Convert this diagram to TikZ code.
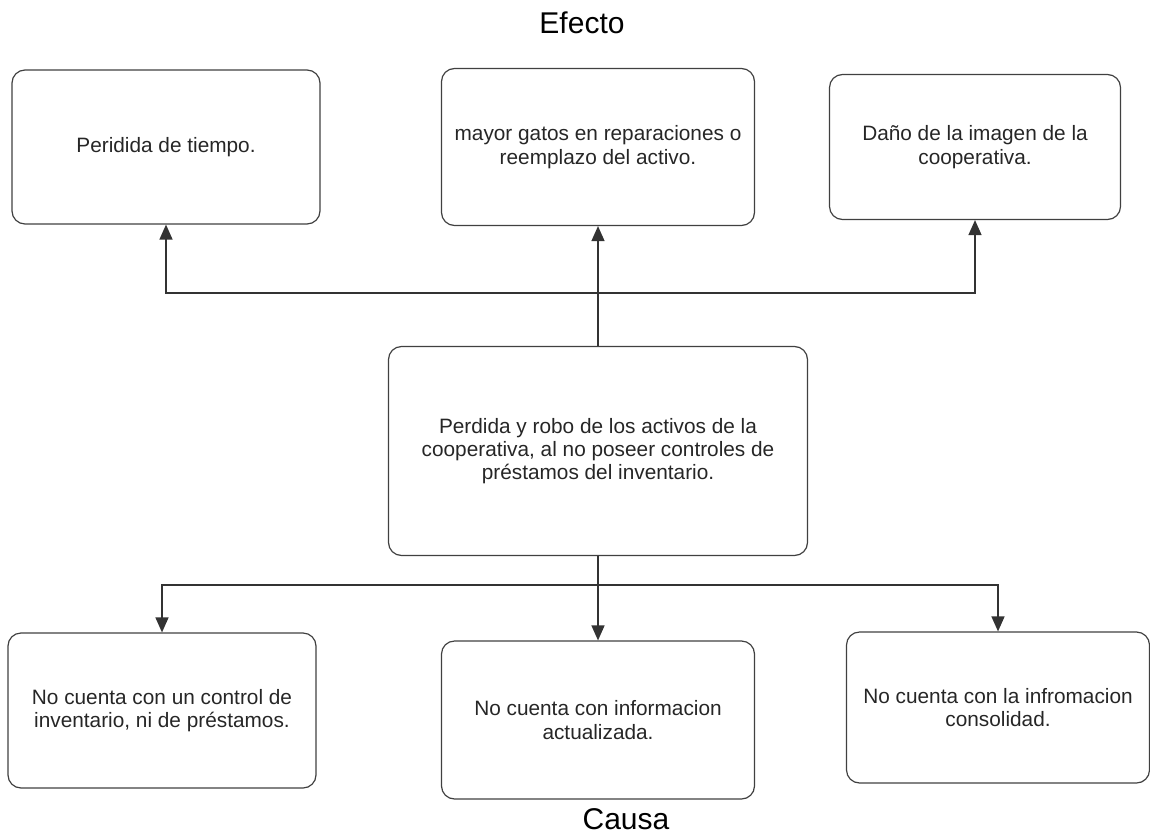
\documentclass[tikz,border=0pt]{standalone}
\usepackage{fontspec}
\setmainfont{Liberation Sans}
\usetikzlibrary{arrows.meta,positioning}
\tikzstyle{box}=[draw=black!75, line width=1.2pt, rounded corners=13pt, align=center, inner sep=0pt, text=black!85, font=\fontsize{20.8}{23.3}\selectfont]
\tikzstyle{boxA}=[box, minimum width=308pt, minimum height=154pt]
\tikzstyle{boxB}=[box, minimum width=313pt, minimum height=157pt]
\tikzstyle{boxC}=[box, minimum width=297pt, minimum height=148pt]
\tikzstyle{problem}=[box, minimum width=419pt, minimum height=209pt]
\tikzstyle{heading}=[anchor=base, font=\fontsize{30}{34}\selectfont]
\tikzstyle{joint}=[coordinate]
\tikzset{%
    link/.style={draw=black!80, line width=1.4pt},
    arrow/.style={link, ->, >={Triangle[length=15pt,width=13pt]}},
  }

\begin{document}
\begin{tikzpicture}[x=1pt, y=-1pt]
    \useasboundingbox (0,0) rectangle (1150,835);
    \node (prob) [problem] at (598,451) {Perdida y robo de los activos de la\\cooperativa, al no poseer controles de\\préstamos del inventario.};
    %
    \node (ef2) [boxB, node distance=304pt, above of=prob] {mayor gatos en reparaciones o\\reemplazo del activo.};
    \node (ef1) [boxA, node distance=432pt, left of=ef2] {Peridida de tiempo.};
    \node (ef3) [boxC, minimum width=291pt, minimum height=145pt, node distance=377pt, right of=ef2] {Daño de la imagen de la\\cooperativa.};
    %
    \node (ca2) [boxB, minimum height=158pt, node distance=269pt, below of=prob] {No cuenta con informacion\\actualizada.};
    \node (ca1) [boxA, minimum height=155pt, node distance=436pt, left of=ca2, yshift=9.5pt] {No cuenta con un control de\\inventario, ni de préstamos.};
    \node (ca3) [boxC, minimum width=303pt, minimum height=151pt, node distance=400pt, right of=ca2, yshift=12.5pt] {No cuenta con la infromacion\\consolidad.};
    %
    \node (efecto) [heading] at (582,33) {Efecto};
    \node (causa) [heading] at (626,829) {Causa};
    %
    \coordinate (jtop) at (598,293);
    \coordinate (jbot) at (598,585);
    \draw [arrow] (prob.north) -- (ef2.south);
    \draw [arrow] (jtop) -| (ef1.south);
    \draw [arrow] (jtop) -| (ef3.south);
    %
    \draw [arrow] (prob.south) -- (ca2.north);
    \draw [arrow] (jbot) -| (ca1.north);
    \draw [arrow] (jbot) -| (ca3.north);
  \end{tikzpicture}
\end{document}
